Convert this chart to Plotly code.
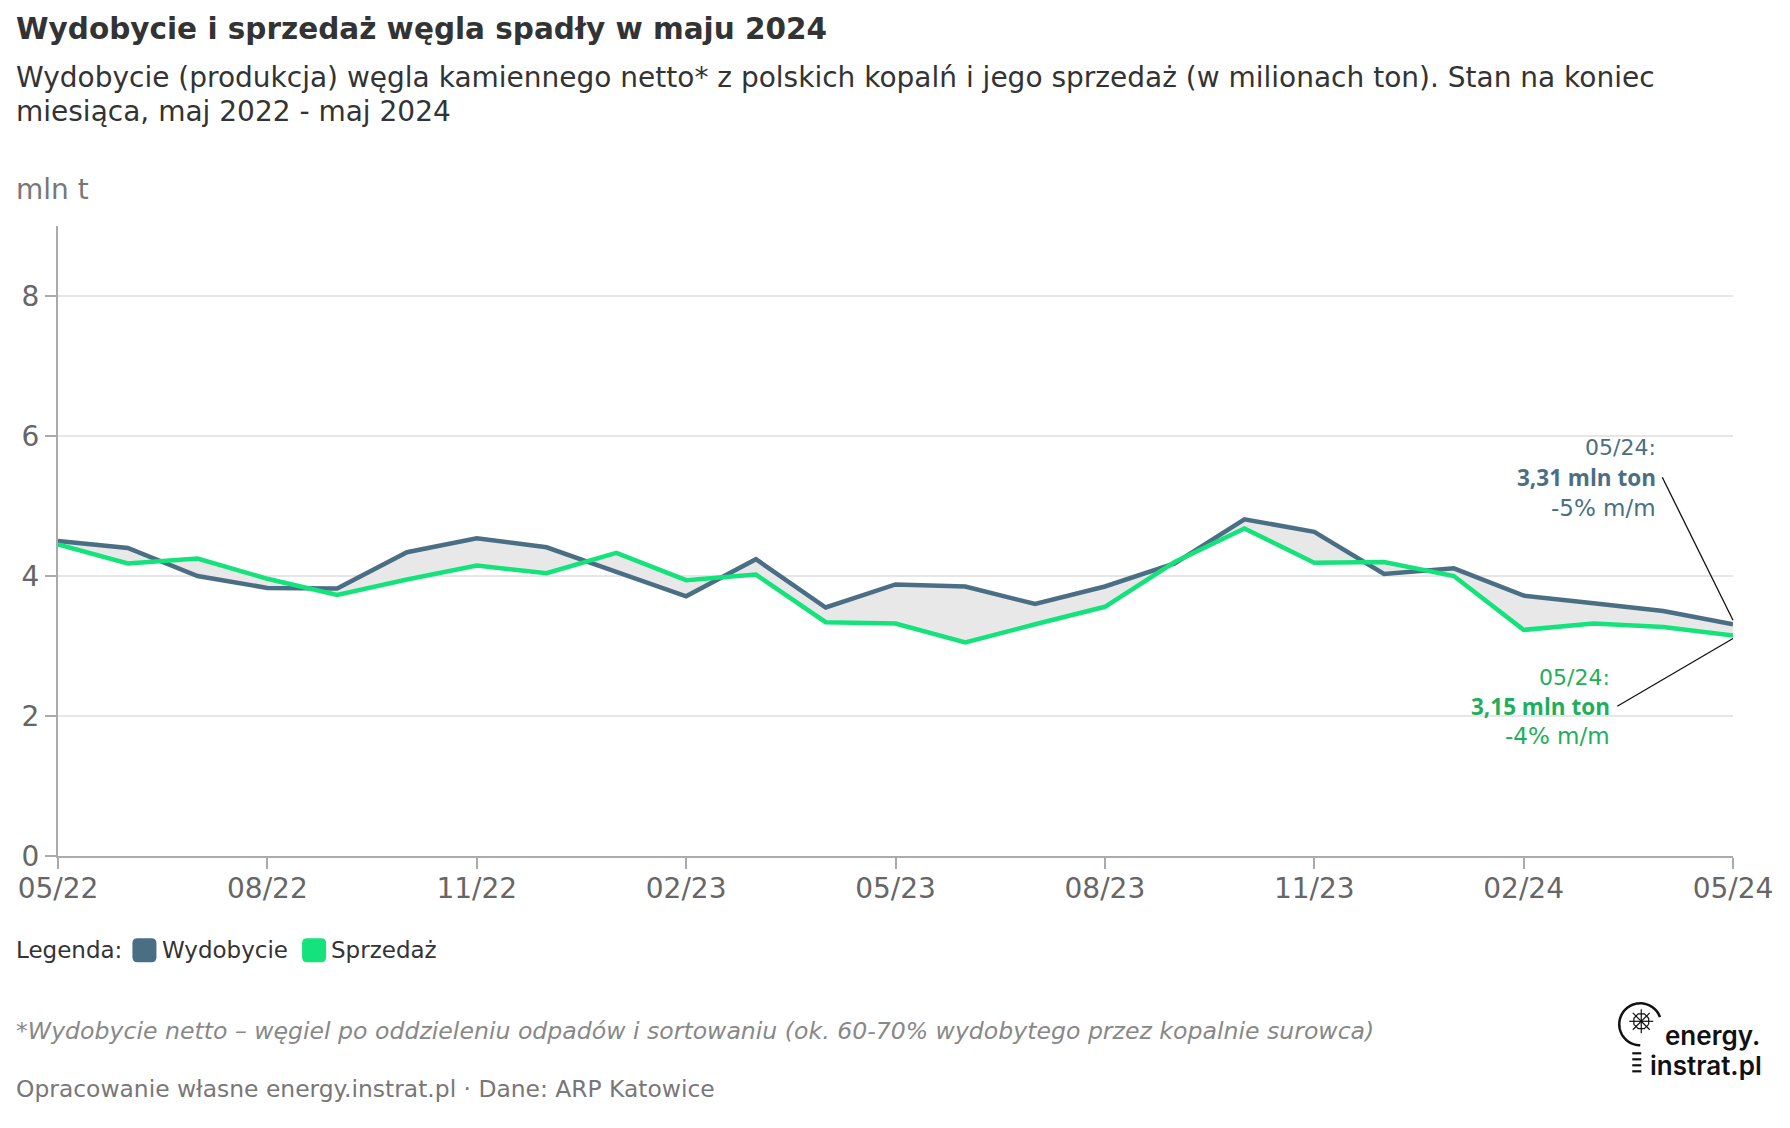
import math
import plotly.graph_objects as go

# ---------------- data ----------------
months = ["05/22", "06/22", "07/22", "08/22", "09/22", "10/22", "11/22", "12/22",
          "01/23", "02/23", "03/23", "04/23", "05/23", "06/23", "07/23", "08/23",
          "09/23", "10/23", "11/23", "12/23", "01/24", "02/24", "03/24", "04/24", "05/24"]
wydobycie = [4.50, 4.40, 4.00, 3.83, 3.82, 4.34, 4.54, 4.41, 4.06, 3.71, 4.24, 3.55, 3.88,
             3.85, 3.60, 3.85, 4.18, 4.81, 4.63, 4.03, 4.11, 3.72, 3.61, 3.50, 3.31]
sprzedaz = [4.45, 4.18, 4.25, 3.96, 3.73, 3.95, 4.15, 4.04, 4.33, 3.94, 4.02, 3.34, 3.32,
            3.05, 3.31, 3.56, 4.20, 4.68, 4.19, 4.20, 4.00, 3.23, 3.32, 3.27, 3.15]
y_ticks = [0, 2, 4, 6, 8]
x_tick_step = 3

# ---------------- layout geometry (page pixel coordinates) ----------------
W, H = 1790, 1128
OFF = 8  # default page body margin
PL, PR, PT, PB = 58.3, 1732.7, 225.7, 855.7  # plot box on the page
PW, PH = PR - PL, PB - PT

def px(x):
    return (x - PL) / PW

def py(y):
    return (PB - y) / PH

C_DARK = "#4a6f84"
C_GREEN = "#14e27a"
C_GREEN_TXT = "#1fae5c"
FONT = "DejaVu Sans"
FONT_B = "Open Sans"

xs = list(range(len(months)))

fig = go.Figure()
fig.add_trace(go.Scatter(x=xs, y=wydobycie, mode="lines", line=dict(width=0),
                         hoverinfo="skip", showlegend=False))
fig.add_trace(go.Scatter(x=xs, y=sprzedaz, mode="lines", line=dict(width=0),
                         fill="tonexty", fillcolor="#e8e8e8",
                         hoverinfo="skip", showlegend=False))
fig.add_trace(go.Scatter(x=xs, y=wydobycie, mode="lines", name="Wydobycie",
                         line=dict(color=C_DARK, width=4.5), showlegend=False))
fig.add_trace(go.Scatter(x=xs, y=sprzedaz, mode="lines", name="Sprzedaż",
                         line=dict(color=C_GREEN, width=4.5), showlegend=False))

ann = []
def text(x, y, t, size, color, xanchor="left", weight=None, style=None, family=FONT):
    f = dict(family=family, size=size, color=color)
    if weight:
        f["weight"] = weight
    if style:
        f["style"] = style
    ann.append(dict(x=px(x), y=py(y), xref="paper", yref="paper", text=t,
                    showarrow=False, xanchor=xanchor, yanchor="middle", font=f))

text(14, 29, "Wydobycie i sprzedaż węgla spadły w maju 2024", 29.5, "#333333", weight=700)
text(14, 77, "Wydobycie (produkcja) węgla kamiennego netto* z polskich kopalń i jego sprzedaż (w milionach ton). Stan na koniec", 28, "#333333")
text(14, 111, "miesiąca, maj 2022 - maj 2024", 28, "#333333")
text(14, 189, "mln t", 28, "#777777")

# end-of-series annotations
last = len(months) - 1
def fmt(v):
    return f"{v:.2f}".replace(".", ",")
text(1658, 447, f"{months[last]}:", 22, C_DARK, xanchor="right")
text(1658, 477, f"<b>{fmt(wydobycie[last])} mln ton</b>", 22.5, C_DARK, xanchor="right", family=FONT_B)
text(1658, 508, "-5% m/m", 23, C_DARK, xanchor="right")
text(1612, 677, f"{months[last]}:", 22, C_GREEN_TXT, xanchor="right")
text(1612, 706, f"<b>{fmt(sprzedaz[last])} mln ton</b>", 22.5, C_GREEN_TXT, xanchor="right", family=FONT_B)
text(1612, 736, "-4% m/m", 23, C_GREEN_TXT, xanchor="right")

# legend
text(14, 950, "Legenda:", 23, "#333333")
text(160, 950, "Wydobycie", 23, "#333333")
text(329, 950, "Sprzedaż", 23, "#333333")

# footer
text(14, 1031, "*Wydobycie netto – węgiel po oddzieleniu odpadów i sortowaniu (ok. 60-70% wydobytego przez kopalnie surowca)",
     23.6, "#888888", style="italic")
text(14, 1089, "Opracowanie własne energy.instrat.pl · Dane: ARP Katowice", 23.4, "#777777")

# logo text
text(1762, 1035, "energy.", 26, "#111111", xanchor="right", weight=600, family="Inter")
text(1764, 1065, "instrat.pl", 26, "#111111", xanchor="right", weight=600, family="Inter")

shapes = []
def rounded_square(cx, cy, half, r, color):
    p = f"M {px(cx-half+r)},{py(cy-half)} L {px(cx+half-r)},{py(cy-half)} "
    p += f"Q {px(cx+half)},{py(cy-half)} {px(cx+half)},{py(cy-half+r)} "
    p += f"L {px(cx+half)},{py(cy+half-r)} "
    p += f"Q {px(cx+half)},{py(cy+half)} {px(cx+half-r)},{py(cy+half)} "
    p += f"L {px(cx-half+r)},{py(cy+half)} "
    p += f"Q {px(cx-half)},{py(cy+half)} {px(cx-half)},{py(cy+half-r)} "
    p += f"L {px(cx-half)},{py(cy-half+r)} "
    p += f"Q {px(cx-half)},{py(cy-half)} {px(cx-half+r)},{py(cy-half)} Z"
    shapes.append(dict(type="path", path=p, xref="paper", yref="paper",
                       fillcolor=color, line=dict(width=0)))

rounded_square(144.7, 950, 12, 5, C_DARK)
rounded_square(314.3, 950, 12, 5, C_GREEN)

def seg(x0, y0, x1, y1, color="#111111", width=1.3):
    shapes.append(dict(type="line", xref="paper", yref="paper",
                       x0=px(x0), y0=py(y0), x1=px(x1), y1=py(y1),
                       line=dict(color=color, width=width)))

def data_py(v):
    return PB - v / 9 * PH

# leader lines from labels to last data point
seg(1662, 477, PR, data_py(wydobycie[last]) - 4)
seg(1617, 706, PR, data_py(sprzedaz[last]) + 3)

# right border
shapes.append(dict(type="rect", xref="paper", yref="paper", x0=px(1787.5), x1=px(1791),
                   y0=py(H + 10), y1=py(0), fillcolor="#333333", line=dict(width=0)))

# logo icon: bulb arc, star, base
cx, cy, rad = 1640, 1024, 21
pts = []
for k in range(0, 61):
    a = math.radians(20 + k * (250 / 60))
    pts.append((cx + rad * math.cos(a), cy - rad * math.sin(a)))
p = "M " + " L ".join(f"{px(a)},{py(b)}" for a, b in pts)
shapes.append(dict(type="path", path=p, xref="paper", yref="paper",
                   line=dict(color="#111111", width=2.5)))
scx, scy, sr = 1641, 1021, 12
for k in range(4):
    a = math.radians(k * 45)
    seg(scx - sr * math.cos(a), scy - sr * math.sin(a), scx + sr * math.cos(a), scy + sr * math.sin(a), width=1.2)
oct_pts = []
for k in range(9):
    a = math.radians(22.5 + k * 45)
    oct_pts.append((scx + 8 * math.cos(a), scy + 8 * math.sin(a)))
p = "M " + " L ".join(f"{px(a)},{py(b)}" for a, b in oct_pts)
shapes.append(dict(type="path", path=p, xref="paper", yref="paper",
                   line=dict(color="#111111", width=1.2)))
for yy in (1053, 1059, 1065, 1071):
    seg(1632, yy, 1641, yy, width=2.2)

fig.update_layout(
    width=W, height=H,
    margin=dict(l=PL - OFF, r=W - (PR - OFF), t=PT - OFF, b=H - (PB - OFF), autoexpand=False),
    paper_bgcolor="white", plot_bgcolor="white",
    showlegend=False,
    annotations=ann, shapes=shapes,
    xaxis=dict(range=[0, last], tickmode="array",
               tickvals=xs[::x_tick_step], ticktext=months[::x_tick_step],
               showgrid=False, zeroline=False, showline=True, linecolor="#aaaaaa", linewidth=2,
               ticks="outside", ticklen=11, tickcolor="#aaaaaa", tickwidth=2,
               tickfont=dict(family=FONT, size=28, color="#666666"), ticklabelstandoff=-5),
    yaxis=dict(range=[0, 9], tickmode="array", tickvals=y_ticks,
               showgrid=True, gridcolor="#e6e6e6", gridwidth=2, zeroline=False,
               showline=True, linecolor="#aaaaaa", linewidth=2,
               ticks="outside", ticklen=11, tickcolor="#aaaaaa", tickwidth=2,
               tickfont=dict(family=FONT, size=28, color="#666666"), ticklabelstandoff=0),
)

fig.write_html("out.html")
